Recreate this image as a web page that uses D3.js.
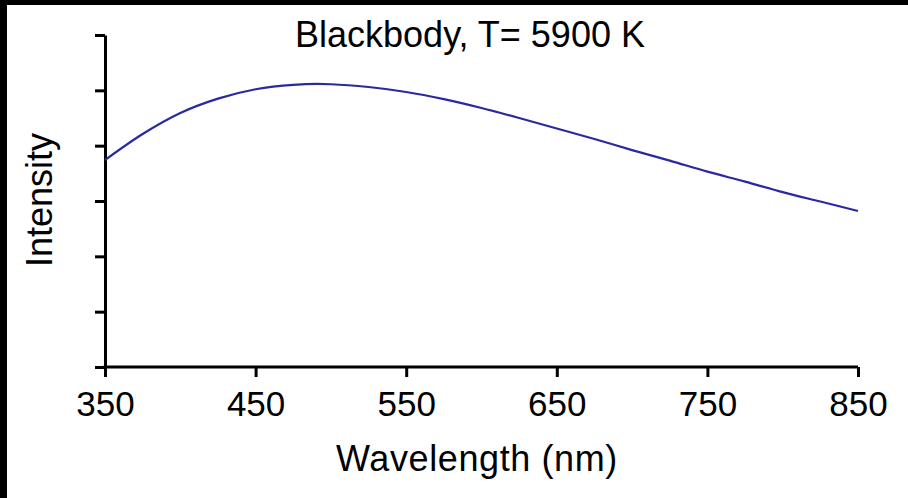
<!DOCTYPE html>
<html>
<head>
<meta charset="utf-8">
<script src="https://cdn.jsdelivr.net/npm/d3@7"></script>
<style>
  body { margin: 0; background: #000; }
  svg { display: block; }
</style>
</head>
<body>
<div id="chart"></div>
<script>
// wavelengths (nm) and relative intensity
const wavelengths = [350, 375, 400, 425, 450, 475, 491, 500, 525, 550, 575, 600,
  625, 650, 675, 700, 725, 750, 775, 800, 825, 850];
const intensity = [3.74, 4.21, 4.59, 4.85, 5.02, 5.10, 5.115, 5.11, 5.06, 4.97, 4.84, 4.68,
  4.50, 4.31, 4.12, 3.92, 3.73, 3.53, 3.35, 3.16, 2.99, 2.82];
const xTicks = [350, 450, 550, 650, 750, 850];
const yTicks = [0, 1, 2, 3, 4, 5, 6];

const width = 908,
  height = 498;
const margin = { top: 35, right: 50, bottom: 131, left: 105 };
const font = "Liberation Sans, Arial, Helvetica, sans-serif";

const svg = d3
  .select("#chart")
  .append("svg")
  .attr("width", width)
  .attr("height", height);

// white page with the black strip on top and left
svg
  .append("rect")
  .attr("x", 7)
  .attr("y", 5)
  .attr("width", width - 7)
  .attr("height", height - 5)
  .attr("fill", "#fff");

const x = d3
  .scaleLinear()
  .domain([350, 850])
  .range([margin.left, width - margin.right]);

const y = d3
  .scaleLinear()
  .domain([0, 6])
  .range([height - margin.bottom, margin.top]);

//x axis
const xAxis = svg
  .append("g")
  .attr("transform", "translate(0," + y(0) + ")")
  .call(d3.axisBottom(x).tickValues(xTicks).tickSize(10).tickSizeOuter(0).tickPadding(14));

//y axis, no labels
const yAxis = svg
  .append("g")
  .attr("transform", "translate(" + x(350) + ",0)")
  .call(d3.axisLeft(y).tickValues(yTicks).tickSize(10).tickSizeOuter(0).tickFormat(""));

[xAxis, yAxis].forEach((g) => {
  g.select(".domain").attr("stroke", "#000").attr("stroke-width", 3);
  g.selectAll(".tick line").attr("stroke", "#000").attr("stroke-width", 3);
  g.selectAll(".tick text")
    .attr("fill", "#000")
    .style("font-family", font)
    .style("font-size", "35px");
});

// extend the x domain line under the y axis corner
xAxis.select(".domain").attr("d", "M" + (x(350) - 1.5) + ",0H" + x(850));

//the curve
const line = d3
  .line()
  .x((d, i) => x(wavelengths[i]))
  .y((d) => y(d))
  .curve(d3.curveMonotoneX);

svg
  .append("path")
  .datum(intensity)
  .attr("d", line)
  .attr("fill", "none")
  .attr("stroke", "#2a2aa0")
  .attr("stroke-width", 2.2);

//title
svg
  .append("text")
  .attr("x", 470)
  .attr("y", 47)
  .attr("text-anchor", "middle")
  .style("font-family", font)
  .style("font-size", "36px")
  .text("Blackbody, T= 5900 K");

//x label
svg
  .append("text")
  .attr("x", 477)
  .attr("y", 471)
  .attr("text-anchor", "middle")
  .style("font-family", font)
  .style("font-size", "36px")
  .style("letter-spacing", "0.6px")
  .text("Wavelength (nm)");

//y label
svg
  .append("text")
  .attr("transform", "translate(52,200) rotate(-90)")
  .attr("text-anchor", "middle")
  .style("font-family", font)
  .style("font-size", "36px")
  .text("Intensity");
</script>
</body>
</html>
